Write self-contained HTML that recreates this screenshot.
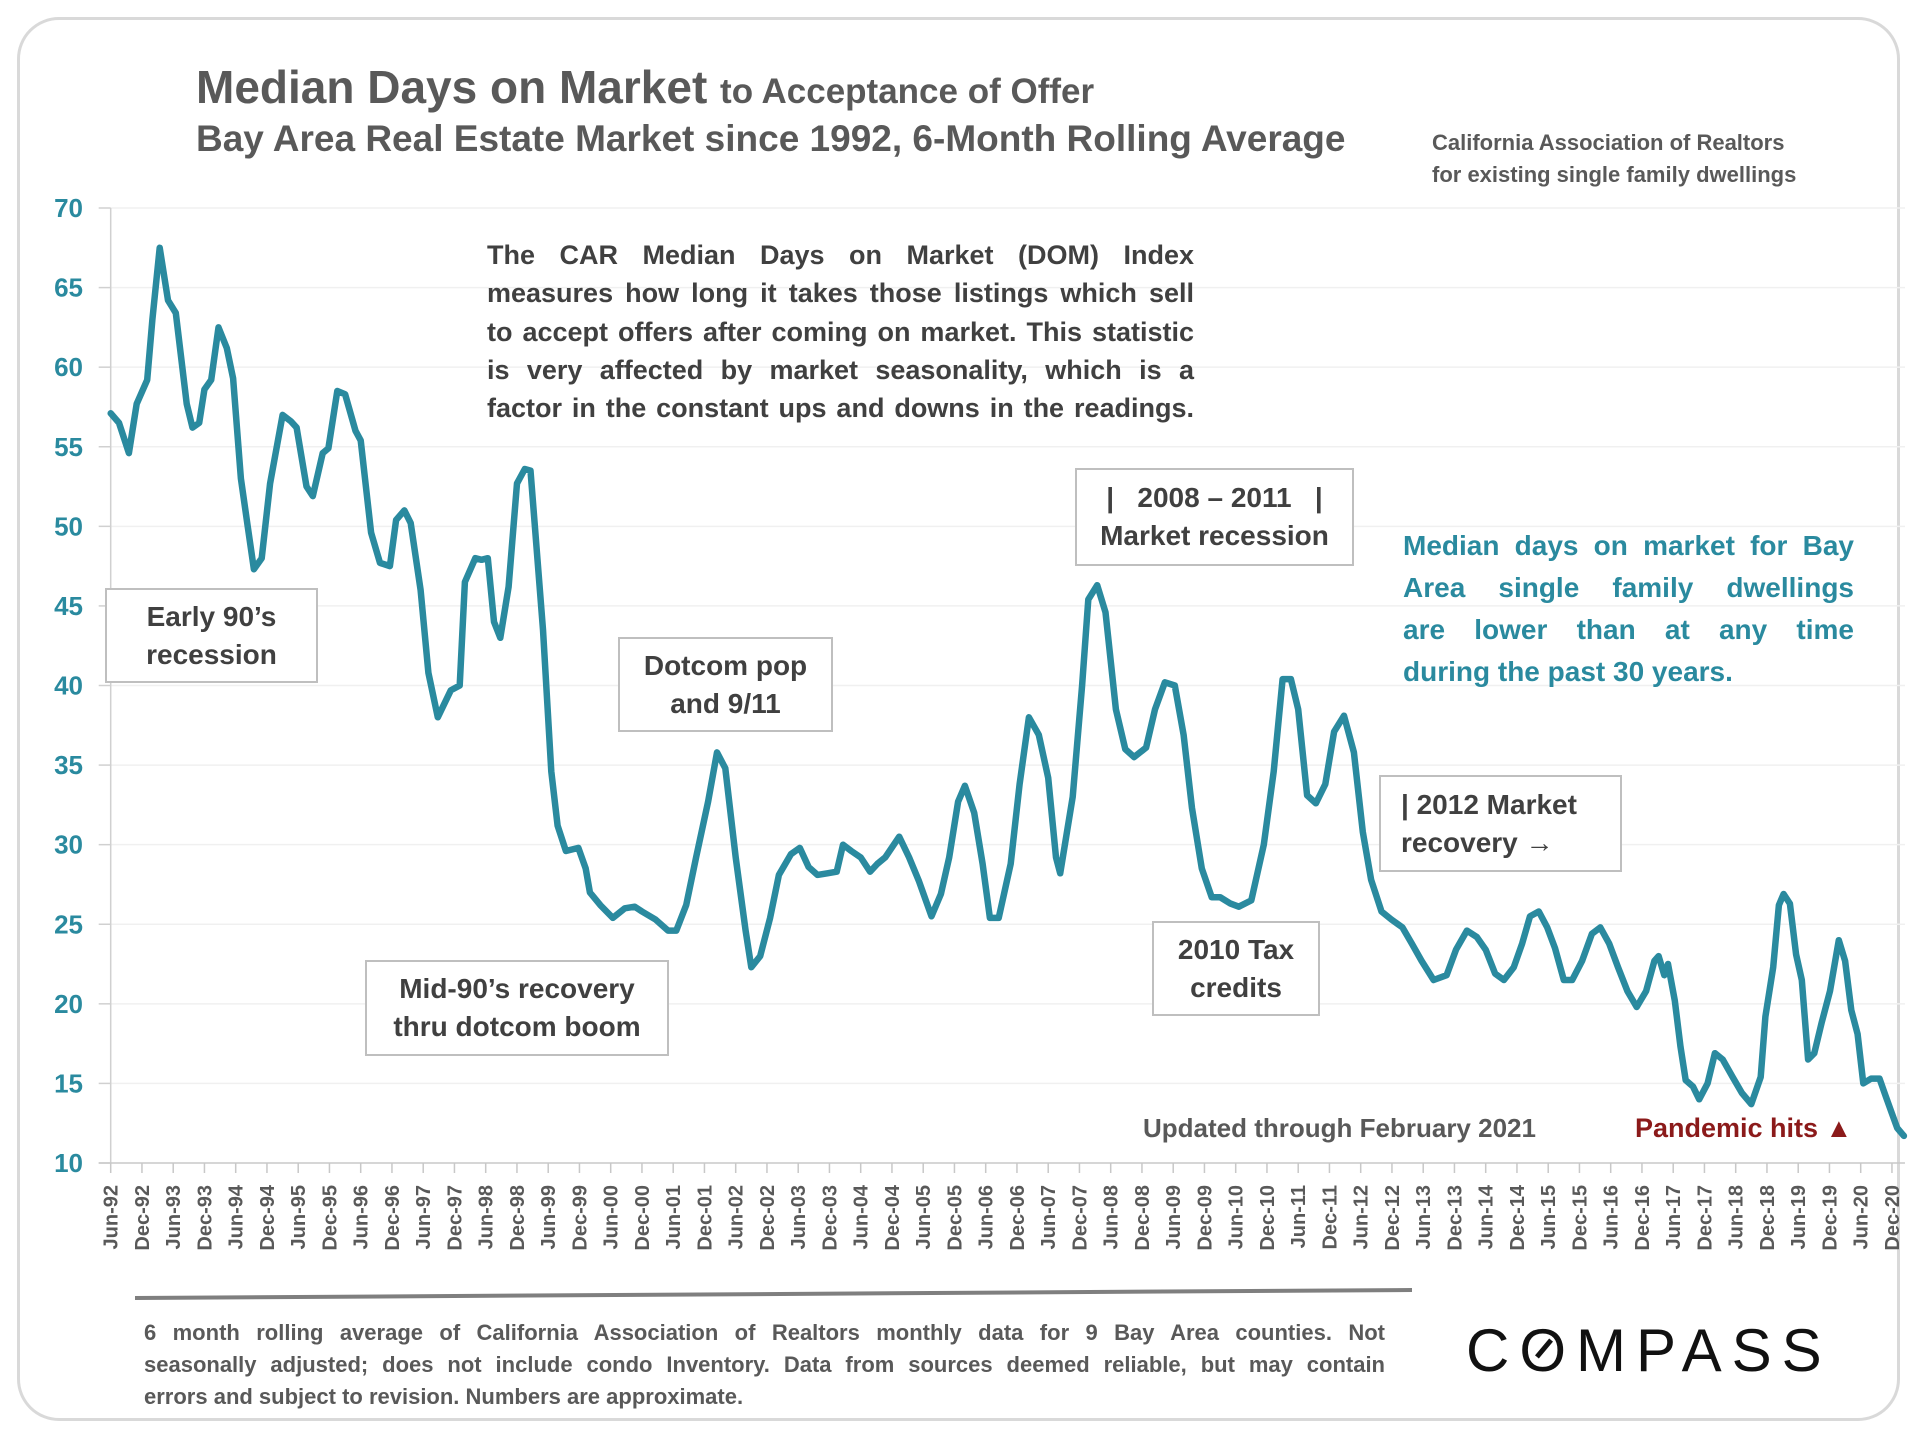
<!DOCTYPE html>
<html><head><meta charset="utf-8"><style>
html,body{margin:0;padding:0;background:#fff;}
body{width:1920px;height:1440px;position:relative;overflow:hidden;font-family:"Liberation Sans",sans-serif;}
.card{position:absolute;left:17px;top:17px;width:1883px;height:1404px;border:3px solid #d9d9d9;border-radius:42px;box-sizing:border-box;}
.t{position:absolute;color:#595959;font-weight:bold;white-space:nowrap;}
.box{position:absolute;border:2px solid #bfbfbf;background:#fff;box-sizing:border-box;display:flex;align-items:center;justify-content:center;text-align:center;color:#404040;font-weight:bold;font-size:28px;line-height:38px;}
.just{position:absolute;}
.just div{text-align:justify;text-align-last:justify;white-space:nowrap;}
.just div.last{text-align:left;text-align-last:left;}
</style></head><body>
<div class="card"></div>
<div class="t" style="left:196px;top:60px;font-size:46px;">Median Days on Market <span style="font-size:35px">to Acceptance of Offer</span></div>
<div class="t" style="left:196px;top:118px;font-size:37px;">Bay Area Real Estate Market since 1992, 6-Month Rolling Average</div>
<div class="t" style="left:1432px;top:127px;font-size:22px;line-height:32px;">California Association of Realtors<br>for existing single family dwellings</div>

<svg id="chart" width="1920" height="1440" style="position:absolute;left:0;top:0">
<g id="grid"></g><g id="axes"></g><g id="series"></g>
</svg>

<div class="just" style="left:487px;top:236px;width:707px;font-size:27px;line-height:38.3px;color:#404040;font-weight:bold;">
<div>The CAR Median Days on Market (DOM) Index</div>
<div>measures how long it takes those listings which sell</div>
<div>to accept offers after coming on market. This statistic</div>
<div>is very affected by market seasonality, which is a</div>
<div>factor in the constant ups and downs in the readings.</div>
</div>

<div class="box" style="left:105px;top:588px;width:213px;height:95px;">Early 90’s<br>recession</div>
<div class="box" style="left:618px;top:637px;width:215px;height:95px;">Dotcom pop<br>and 9/11</div>
<div class="box" style="left:365px;top:960px;width:304px;height:96px;">Mid-90’s recovery<br>thru dotcom boom</div>
<div class="box" style="left:1075px;top:468px;width:279px;height:98px;">|&nbsp;&nbsp;&nbsp;2008 – 2011&nbsp;&nbsp;&nbsp;|<br>Market recession</div>
<div class="box" style="left:1379px;top:775px;width:243px;height:97px;justify-content:flex-start;text-align:left;padding-left:20px;">| 2012 Market<br>recovery →</div>
<div class="box" style="left:1152px;top:921px;width:168px;height:95px;">2010 Tax<br>credits</div>

<div class="just" style="left:1403px;top:525px;width:451px;font-size:28px;line-height:42px;color:#2a8a9f;font-weight:bold;">
<div>Median days on market for Bay</div>
<div>Area single family dwellings</div>
<div>are lower than at any time</div>
<div class="last">during the past 30 years.</div>
</div>

<div class="t" style="left:1143px;top:1113px;font-size:26px;">Updated through February 2021</div>
<div class="t" style="left:1635px;top:1113px;font-size:27px;color:#8b1a1a;">Pandemic hits ▲</div>

<svg width="1920" height="1440" style="position:absolute;left:0;top:0;pointer-events:none"><line x1="135" y1="1298" x2="1412" y2="1290" stroke="#7f7f7f" stroke-width="4"/></svg>
<div class="just" style="left:144px;top:1317px;width:1241px;font-size:22px;line-height:32px;color:#595959;font-weight:bold;">
<div>6 month rolling average of California Association of Realtors monthly data for 9 Bay Area counties. Not</div>
<div>seasonally adjusted; does not include condo Inventory. Data from sources deemed reliable, but may contain</div>
<div class="last">errors and subject to revision. Numbers are approximate.</div>
</div>
<div class="t" style="left:1466px;top:1316px;font-size:60px;color:#111;font-weight:normal;letter-spacing:10px;">C<span style="display:inline-block;position:relative;">O<span style="position:absolute;left:14px;top:30px;width:22px;height:5px;background:#111;transform:rotate(-50deg);"></span></span>MPASS</div>

<script>
const yTicks=[10,15,20,25,30,35,40,45,50,55,60,65,70];
const xTickLabels=[];
(function(){const yrs=['92','93','94','95','96','97','98','99','00','01','02','03','04','05','06','07','08','09','10','11','12','13','14','15','16','17','18','19','20'];for(const y of yrs){xTickLabels.push('Jun-'+y);xTickLabels.push('Dec-'+y);}})();
const months=[0,1.6,3.5,5,7,8,9.4,11,12.5,14.6,15.7,17,18,19.3,20.7,22.3,23.5,25,26.3,27.5,29,30.6,33,34.6,35.7,37.6,38.8,40.7,41.8,43.5,45,47,48,50,51.7,53.6,54.8,56.4,57.6,59.5,61,62.8,65.3,67,68,70,71.2,72.4,73.6,74.8,76.4,78,79.5,80.6,83,84.6,85.8,87.4,89.8,91.2,92,94,96.4,98.7,100.6,102,104.6,107,108.6,110.5,112.4,114.7,116.4,118,120,121.9,123,124.7,126.6,128.3,130.6,132.3,134,135.7,137.6,139.4,140.6,142.2,144,145.8,147.2,148.7,151.4,153.3,155.2,157.6,159.4,161,162.7,164,165.8,167.4,168.8,170.5,172.8,174.5,176.3,178.2,180,181.5,182.3,184.7,186.5,187.7,189.4,191,193,194.8,196.5,198.8,200.5,202.4,204.3,206,207.6,209.5,211.4,213,215,216.6,219,221.4,223.3,225,226.6,228,229.7,231.4,233.2,234.9,236.8,238.7,240.4,242,244,245.9,248,249.8,251.7,254,256.5,258.3,260.4,262.3,264,265.8,267.5,269.4,271,272.5,274.2,275.8,277.3,279,280.6,282.5,284.4,286,287.7,289.4,291.2,293,294.8,296.4,297.2,298.3,299,300.3,301.4,302.4,303.8,305,306.6,308,309.5,311.4,313.2,315,316.8,317.7,319.2,320.3,321.2,322.4,323.6,324.7,325.9,327.1,328.5,330.1,331.8,333,334.2,335.4,336.5,338,339.6,340.8,342,343,344.3];
const domValues=[57.1,56.5,54.6,57.7,59.2,63,67.5,64.2,63.4,57.7,56.2,56.5,58.6,59.2,62.5,61.2,59.3,53,50,47.3,48,52.7,57,56.6,56.2,52.5,51.9,54.6,54.9,58.5,58.3,56,55.4,49.6,47.7,47.5,50.4,51,50.2,46,40.8,38,39.7,40,46.5,48,47.9,48,44,43,46.2,52.7,53.6,53.5,43.5,34.6,31.2,29.6,29.8,28.5,27,26.2,25.4,26,26.1,25.8,25.3,24.6,24.6,26.2,29.2,32.7,35.8,34.8,29.2,24.6,22.3,23,25.4,28.1,29.4,29.8,28.6,28.1,28.2,28.3,30,29.6,29.2,28.3,28.8,29.2,30.5,29.2,27.7,25.5,26.9,29.2,32.7,33.7,32,28.8,25.4,25.4,28.8,33.8,38,36.9,34.2,29.2,28.2,33,40,45.4,46.3,44.6,38.5,36,35.5,36.1,38.5,40.2,40,36.9,32.3,28.5,26.7,26.7,26.3,26.1,26.5,30,34.6,40.4,40.4,38.5,33.1,32.6,33.8,37.1,38.1,35.8,30.8,27.8,25.8,25.3,24.8,23.8,22.7,21.5,21.8,23.4,24.6,24.2,23.4,21.9,21.5,22.3,23.8,25.5,25.8,24.8,23.5,21.5,21.5,22.7,24.4,24.8,23.8,22.3,20.8,19.8,20.8,22.7,23,21.8,22.5,20.2,17.3,15.2,14.8,14,15,16.9,16.5,15.4,14.4,13.7,15.4,19.2,22.3,26.2,26.9,26.3,23.1,21.5,16.5,16.9,18.8,20.8,24,22.7,19.6,18.1,15,15.3,15.3,14.2,13.1,12.2,11.7];

const X0=110.7, PXM=31.25/6, Y70=208, Y10=1163;
const xScale=m=>X0+m*PXM;
const yScale=v=>Y10-(v-10)*(Y10-Y70)/60;
const NS='http://www.w3.org/2000/svg';
const grid=document.getElementById('grid'),axes=document.getElementById('axes'),series=document.getElementById('series');
function mk(tag,attrs,parent){const e=document.createElementNS(NS,tag);for(const k in attrs)e.setAttribute(k,attrs[k]);parent.appendChild(e);return e;}
const xEnd=xScale(344.5);
yTicks.forEach(v=>{
  const y=yScale(v);
  if(v>10){const g=mk('line',{x1:X0,x2:xEnd,y1:y,y2:y,stroke:'#f0f0f0','stroke-width':1.5},grid);
  
  }
  const tk=mk('line',{x1:X0-12,x2:X0,y1:y,y2:y,stroke:'#d0d0d0','stroke-width':1.5},axes);
  
  
  const t=mk('text',{x:83,y:y+9,'text-anchor':'end','font-size':26,'font-weight':'bold',fill:'#2a8a9f','font-family':'Liberation Sans, sans-serif'},axes);
  t.textContent=v;
  
  
});
const ya=mk('line',{x1:X0,x2:X0,y1:Y70,y2:Y10,stroke:'#d0d0d0','stroke-width':1.5},axes);


const xa=mk('line',{x1:X0-12,x2:xEnd,y1:Y10,y2:Y10,stroke:'#c8c8c8','stroke-width':1.5},axes);


xTickLabels.forEach((lab,i)=>{
  const x=xScale(i*6);
  const tk=mk('line',{x1:x,x2:x,y1:Y10,y2:Y10+10,stroke:'#c8c8c8','stroke-width':1.5},axes);
  
  
  const t=mk('text',{x:0,y:0,transform:`translate(${x+7},${Y10+22}) rotate(-90)`,'text-anchor':'end','font-size':20,'font-weight':'bold',fill:'#595959','font-family':'Liberation Sans, sans-serif'},axes);
  t.textContent=lab;
  
  
});
const d=months.map((m,i)=>(i?'L':'M')+xScale(m).toFixed(1)+' '+yScale(domValues[i]).toFixed(1)).join(' ');
const p=mk('path',{d:d,fill:'none',stroke:'#2a8a9f','stroke-width':6.5,'stroke-linejoin':'round','stroke-linecap':'round'},series);


</script>
</body></html>
